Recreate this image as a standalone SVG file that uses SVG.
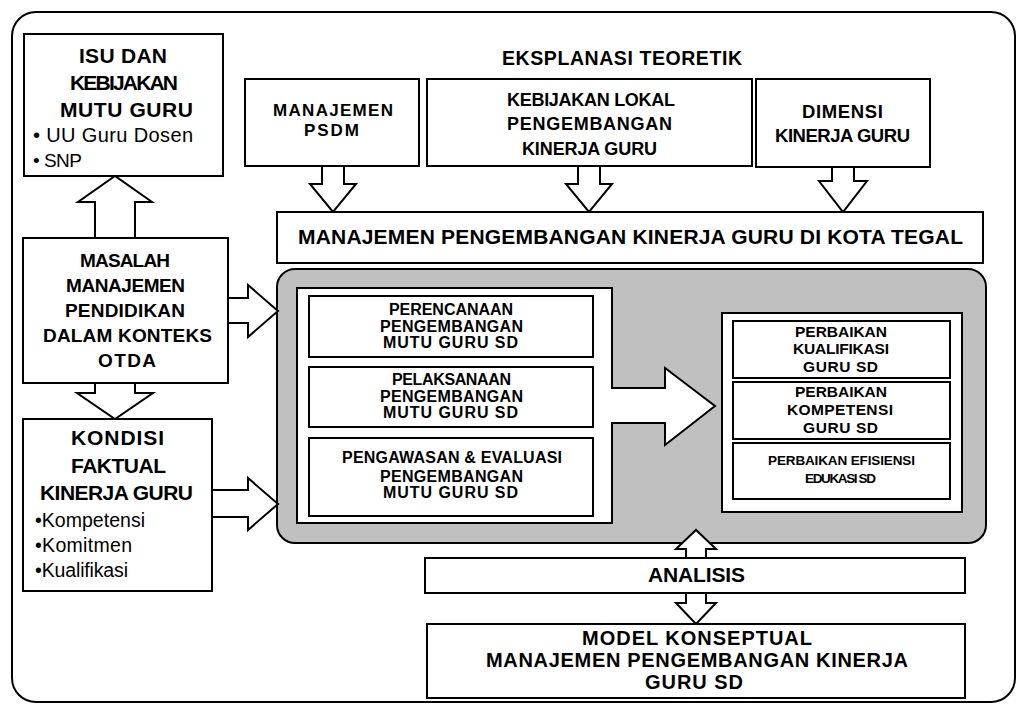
<svg xmlns="http://www.w3.org/2000/svg" width="1020" height="706" viewBox="0 0 1020 706">
<style>
.box{fill:#fff;stroke:#000;stroke-width:2}
.frame{fill:#fff;stroke:#000;stroke-width:2}
.gray{fill:#c0c0c0;stroke:#000;stroke-width:2}
.arr{fill:#fff;stroke:#000;stroke-width:2;stroke-linejoin:miter}
text{font-family:"Liberation Sans",Arial,sans-serif;fill:#000}
.b{font-weight:bold;text-anchor:middle}
.n{font-weight:normal;text-anchor:start}
.s13{font-size:13.5px}.s15{font-size:15.5px}.s16{font-size:16px}.s17{font-size:17px}.s18{font-size:18px}.s185{font-size:18.5px}.s19{font-size:19px}.s195{font-size:19.5px}.s20{font-size:20px}.s21{font-size:21px}
</style>
<rect class="frame" x="12" y="12" width="1003" height="690" rx="24"/>
<text class="b s195" x="622" y="65" textLength="240">EKSPLANASI TEORETIK</text>

<g id="gray-panel"><rect class="gray" x="277" y="269" width="709" height="274" rx="18"/></g>

<g id="connectors">
<polygon class="arr" points="95,238 95,202 78,202 115,176 152,202 135,202 135,238"/>
<polygon class="arr" points="95,383 95,393 77,393 115,419 153,393 135,393 135,383"/>
<polygon class="arr" points="228,298 248,298 248,285 278,311 248,337 248,323 228,323"/>
<polygon class="arr" points="212,490 248,490 248,478 278,504 248,530 248,517 212,517"/>
<polygon class="arr" points="322,166 322,184 310,184 333,212 356,184 344,184 344,166"/>
<polygon class="arr" points="578,166 578,184 566,184 589,212 612,184 600,184 600,166"/>
<polygon class="arr" points="832,167 832,181 819,181 843,212 867,181 854,181 854,167"/>
<polygon class="arr" points="686,558 686,549 676,549 696,530 716,549 706,549 706,558"/>
<polygon class="arr" points="686,593 686,603 676,603 696,624 716,603 706,603 706,593"/>
</g>

<g id="isu">
<rect class="box" x="24" y="34" width="199" height="142"/>
<text class="b s21" x="123" y="63" textLength="88">ISU DAN</text>
<text class="b s21" x="124" y="90" textLength="108">KEBIJAKAN</text>
<text class="b s21" x="126.5" y="117" textLength="133">MUTU GURU</text>
<text class="n s20" x="33" y="142" textLength="160">• UU Guru Dosen</text>
<text class="n s19" x="33" y="167" textLength="49">• SNP</text>
</g>

<g id="masalah">
<rect class="box" x="23" y="238" width="205" height="145"/>
<text class="b s19" x="125" y="267" textLength="90">MASALAH</text>
<text class="b s19" x="125.5" y="292" textLength="119">MANAJEMEN</text>
<text class="b s19" x="125" y="317" textLength="120">PENDIDIKAN</text>
<text class="b s19" x="127.5" y="342" textLength="169">DALAM KONTEKS</text>
<text class="b s19" x="127" y="367" textLength="58">OTDA</text>
</g>

<g id="kondisi">
<rect class="box" x="23" y="419" width="189" height="172"/>
<text class="b s21" x="117.5" y="445" textLength="93">KONDISI</text>
<text class="b s21" x="118.5" y="473" textLength="95">FAKTUAL</text>
<text class="b s21" x="116.5" y="500" textLength="153">KINERJA GURU</text>
<text class="n s195" x="35" y="527" textLength="110">•Kompetensi</text>
<text class="n s195" x="35" y="552" textLength="97">•Komitmen</text>
<text class="n s195" x="35" y="577" textLength="93">•Kualifikasi</text>
</g>

<g id="psdm">
<rect class="box" x="245" y="79" width="174" height="87"/>
<text class="b s17" x="333" y="116" textLength="120">MANAJEMEN</text>
<text class="b s17" x="331.5" y="136" textLength="55">PSDM</text>
</g>

<g id="kebijakan-lokal">
<rect class="box" x="427" y="79" width="325" height="87"/>
<text class="b s18" x="591" y="106" textLength="168">KEBIJAKAN LOKAL</text>
<text class="b s18" x="589.5" y="130" textLength="165">PENGEMBANGAN</text>
<text class="b s18" x="589.5" y="155" textLength="135">KINERJA GURU</text>
</g>

<g id="dimensi">
<rect class="box" x="756" y="79" width="174" height="88"/>
<text class="b s185" x="842.5" y="118" textLength="81">DIMENSI</text>
<text class="b s185" x="842.5" y="142" textLength="135">KINERJA GURU</text>
</g>

<g id="manajemen-pengembangan">
<rect class="box" x="277" y="212" width="706" height="51"/>
<text class="b s21" x="630.5" y="244" textLength="665">MANAJEMEN PENGEMBANGAN KINERJA GURU DI KOTA TEGAL</text>
</g>

<g id="proses-panel">
<polygon class="arr" points="297,288 612,288 612,388 665,388 665,368 715,406 665,445 665,423 612,423 612,523 297,523"/>
</g>

<g id="perencanaan">
<rect class="box" x="309" y="296" width="284" height="61"/>
<text class="b s16" x="451" y="315" textLength="124">PERENCANAAN</text>
<text class="b s16" x="451.5" y="332" textLength="143">PENGEMBANGAN</text>
<text class="b s16" x="450.5" y="348" textLength="135">MUTU GURU SD</text>
</g>

<g id="pelaksanaan">
<rect class="box" x="309" y="367" width="284" height="60"/>
<text class="b s16" x="451.5" y="385" textLength="119">PELAKSANAAN</text>
<text class="b s16" x="451.5" y="402" textLength="143">PENGEMBANGAN</text>
<text class="b s16" x="450.5" y="418" textLength="135">MUTU GURU SD</text>
</g>

<g id="pengawasan">
<rect class="box" x="309" y="438" width="284" height="78"/>
<text class="b s16" x="452" y="463" textLength="220">PENGAWASAN &amp; EVALUASI</text>
<text class="b s16" x="451.5" y="482" textLength="143">PENGEMBANGAN</text>
<text class="b s16" x="450.5" y="498" textLength="135">MUTU GURU SD</text>
</g>

<g id="hasil-panel">
<rect class="box" x="722" y="313" width="240" height="199"/>
</g>

<g id="perbaikan-kualifikasi">
<rect class="box" x="733" y="321" width="217" height="57"/>
<text class="b s15" x="841" y="337" textLength="92">PERBAIKAN</text>
<text class="b s15" x="841" y="354" textLength="96">KUALIFIKASI</text>
<text class="b s15" x="840.5" y="372" textLength="75">GURU SD</text>
</g>

<g id="perbaikan-kompetensi">
<rect class="box" x="733" y="382" width="217" height="57"/>
<text class="b s15" x="841" y="397" textLength="92">PERBAIKAN</text>
<text class="b s15" x="840" y="415" textLength="106">KOMPETENSI</text>
<text class="b s15" x="840.5" y="433" textLength="75">GURU SD</text>
</g>

<g id="perbaikan-efisiensi">
<rect class="box" x="733" y="443" width="217" height="56"/>
<text class="b s13" x="841.5" y="465" textLength="147">PERBAIKAN EFISIENSI</text>
<text class="b s13" x="840.5" y="483" textLength="71">EDUKASI SD</text>
</g>

<g id="analisis">
<rect class="box" x="425" y="558" width="540" height="35"/>
<text class="b s21" x="696.5" y="582" textLength="97">ANALISIS</text>
</g>

<g id="model">
<rect class="box" x="427" y="624" width="538" height="74"/>
<text class="b s20" x="697" y="645" textLength="230">MODEL KONSEPTUAL</text>
<text class="b s20" x="697" y="667" textLength="422">MANAJEMEN PENGEMBANGAN KINERJA</text>
<text class="b s20" x="694" y="689" textLength="98">GURU SD</text>
</g>
</svg>
